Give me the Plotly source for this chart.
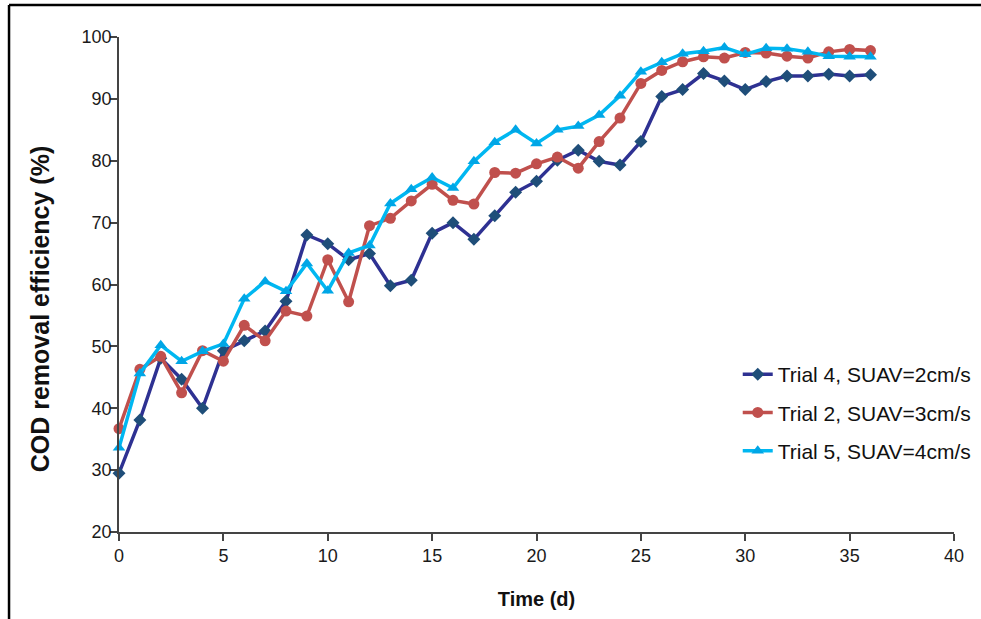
import plotly.graph_objects as go

days = list(range(0, 37))

trial4 = [29.5, 38.1, 48.1, 44.7, 40.0, 49.3, 50.9, 52.5, 57.3, 68.0,
          66.6, 64.0, 65.0, 59.8, 60.7, 68.3, 70.0, 67.3, 71.1, 74.9,
          76.7, 80.1, 81.7, 79.9, 79.3, 83.1, 90.4, 91.5, 94.1, 92.9,
          91.5, 92.8, 93.7, 93.7, 94.0, 93.7, 93.9]

trial2 = [36.7, 46.3, 48.4, 42.5, 49.3, 47.6, 53.4, 50.9, 55.7, 54.9,
          64.0, 57.2, 69.5, 70.7, 73.5, 76.2, 73.6, 73.0, 78.1, 78.0,
          79.5, 80.6, 78.8, 83.1, 86.9, 92.5, 94.6, 96.0, 96.8, 96.6,
          97.5, 97.4, 96.9, 96.6, 97.6, 98.0, 97.8]

trial5 = [33.6, 45.6, 50.2, 47.6, 49.2, 50.4, 57.7, 60.5, 58.9, 63.4,
          59.0, 65.1, 66.3, 73.1, 75.4, 77.3, 75.6, 79.9, 83.0, 85.0,
          82.8, 85.0, 85.6, 87.4, 90.5, 94.4, 95.9, 97.3, 97.7, 98.3,
          97.2, 98.2, 98.1, 97.6, 96.9, 96.8, 96.8]

names = ["Trial 4, SUAV=2cm/s", "Trial 2, SUAV=3cm/s", "Trial 5, SUAV=4cm/s"]
x_ticks = [0, 5, 10, 15, 20, 25, 30, 35, 40]
y_ticks = [20, 30, 40, 50, 60, 70, 80, 90, 100]
y_title = "COD removal efficiency (%)"
x_title = "Time (d)"

fig = go.Figure()

series = [
    (trial4, names[0], "#2E3192", "#1F4E79", "diamond", 10),
    (trial2, names[1], "#C0504D", "#C0504D", "circle", 11),
    (trial5, names[2], "#00B7F1", "#00A6E6", "triangle-up", 11),
]
for i, (vals, name, lc, mc, sym, ms) in enumerate(series):
    fig.add_trace(go.Scatter(
        x=days, y=vals, name=name, mode="lines+markers",
        line=dict(color=lc, width=3.5),
        marker=dict(color=mc, symbol=sym, size=ms, line=dict(width=0)),
        cliponaxis=False, legendgroup=f"g{i}",
    ))

FAM = "Liberation Sans, Arial, sans-serif"
axis_font = dict(family=FAM, size=18, color="#1a1a1a")

fig.update_layout(
    width=981, height=619,
    paper_bgcolor="white", plot_bgcolor="white",
    margin=dict(l=119, r=27, t=37, b=87, autoexpand=False),
    font=dict(family=FAM, color="#111"),
    showlegend=True,
    legend=dict(
        x=0.741, y=0.3596, xanchor="left", yanchor="top",
        font=dict(family=FAM, size=21, color="#111"),
        bgcolor="rgba(0,0,0,0)", tracegroupgap=8, traceorder="grouped",
    ),
    xaxis=dict(
        range=[0, 40], tickmode="array", tickvals=x_ticks,
        ticktext=[str(v) for v in x_ticks],
        showgrid=False, zeroline=False, showline=True, linecolor="#444", linewidth=1.5,
        ticks="outside", ticklen=7, tickcolor="#444", tickwidth=1.5,
        tickfont=axis_font,
        title=dict(text=f"<b>{x_title}</b>", font=dict(family=FAM, size=20, color="#111"), standoff=27),
    ),
    yaxis=dict(
        range=[20, 100], tickmode="array", tickvals=y_ticks,
        ticktext=[str(v) for v in y_ticks],
        showgrid=False, zeroline=False, showline=True, linecolor="#444", linewidth=1.5,
        ticks="outside", ticklen=7, tickcolor="#444", tickwidth=1.5,
        tickfont=axis_font, ticklabelstandoff=-5,
    ),
    annotations=[
        dict(text=f"<b>{y_title}</b>", textangle=-90, xref="paper", yref="paper",
             x=-0.0946, y=0.45, xanchor="center", yanchor="middle", showarrow=False,
             font=dict(family=FAM, size=25, color="#111")),
    ],
    shapes=[
        dict(type="line", xref="paper", yref="paper", x0=-0.1317, x1=1.04, y0=1.0646, y1=1.0646,
             line=dict(color="black", width=2.5)),
        dict(type="line", xref="paper", yref="paper", x0=-0.1317, x1=-0.1317, y0=1.0646, y1=-0.2,
             line=dict(color="black", width=2.5)),
    ],
)

fig.write_html("out.html", config={"displayModeBar": False},
               post_script="document.body.style.margin='0';")
